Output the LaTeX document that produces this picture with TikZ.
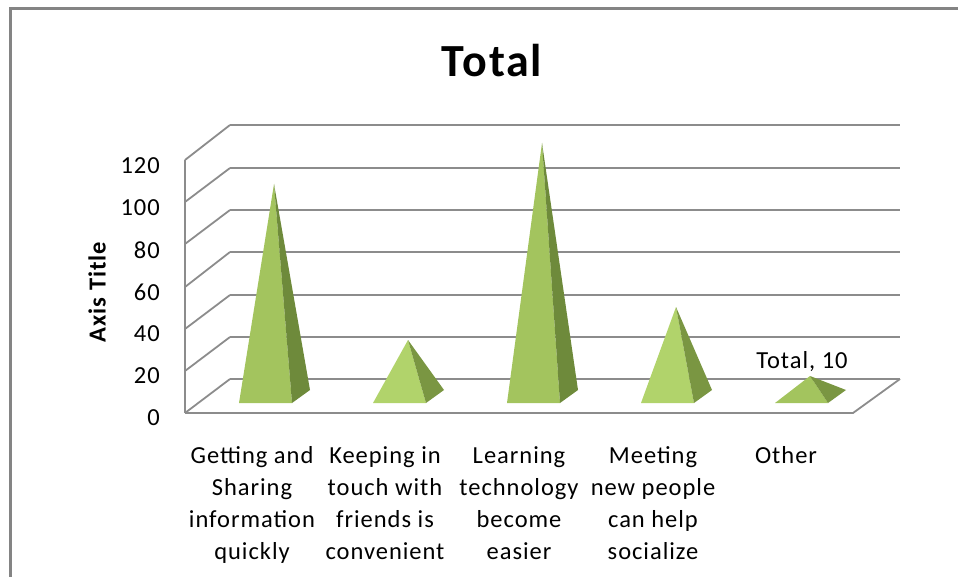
\documentclass[tikz,border=0pt]{standalone}
\usepackage{fontspec}
\setmainfont{Carlito}[LetterSpace=4]
\usepackage{xcolor}
\usepackage{tikz}
\usetikzlibrary{positioning}

\definecolor{gridgray}{HTML}{8C8C8C}
\definecolor{framegray}{HTML}{848484}
\definecolor{pyrfront}{HTML}{A3C45E}
\definecolor{pyrlight}{HTML}{B1D36B}
\definecolor{pyrside}{HTML}{6E8A3B}
\definecolor{pyrsidel}{HTML}{7A9642}

\begin{document}
\begin{tikzpicture}[x=1pt,y=-1pt,
    grid/.style={draw=gridgray,line width=1.8pt},
    ticklab/.style={anchor=east,inner sep=0pt,font=\fontsize{24.5}{28}\selectfont},
    catlab/.style={anchor=north,align=center,inner sep=0pt,font=\fontsize{24.5}{32}\selectfont}]

    \useasboundingbox (0,0) rectangle (958,577);

    % chart frame
    \draw[framegray,line width=3pt] (10,577) -- (10,9) -- (958,9);

    \node[anchor=base,font=\bfseries\fontsize{46}{50}\selectfont] (title) at (492,77) {Total};

    % back wall
    \draw[grid] (230,379) -- (900,379);
    \draw[grid] (230,337) -- (900,337);
    \draw[grid] (230,295) -- (900,295);
    \draw[grid] (230,252) -- (900,252);
    \draw[grid] (230,210) -- (900,210);
    \draw[grid] (230,168) -- (900,168);
    \draw[grid] (230,125) -- (900,125);

    % side wall
    \draw[grid] (185,160) -- (185,413);
    \draw[grid] (185,413) -- (230,379);
    \draw[grid] (185,371) -- (230,337);
    \draw[grid] (185,329) -- (230,295);
    \draw[grid] (185,287) -- (230,252);
    \draw[grid] (185,244) -- (230,210);
    \draw[grid] (185,202) -- (230,168);
    \draw[grid] (185,160) -- (230,125);

    % floor
    \draw[grid] (185,413) -- (853,413) -- (900,379);

    % pyramids
    \fill[pyrfront] (239,403) -- (292,403) -- (274,184) -- cycle;
    \fill[pyrside]  (292,403) -- (310,390) -- (274,184) -- cycle;

    \fill[pyrlight] (373,403) -- (426,403) -- (408,340) -- cycle;
    \fill[pyrsidel] (426,403) -- (444,390) -- (408,340) -- cycle;

    \fill[pyrfront] (507,403) -- (560,403) -- (542,143) -- cycle;
    \fill[pyrside]  (560,403) -- (578,390) -- (542,143) -- cycle;

    \fill[pyrlight] (641,403) -- (694,403) -- (676,307) -- cycle;
    \fill[pyrsidel] (694,403) -- (712,390) -- (676,307) -- cycle;

    \fill[pyrfront] (775,403) -- (828,403) -- (810,376) -- cycle;
    \fill[pyrsidel] (828,403) -- (846,390) -- (810,376) -- cycle;

    \node[anchor=base,font=\fontsize{24.5}{28}\selectfont] (val) at (802,368) {Total, 10};

    % value axis
    \node[ticklab] (t0)   at (160,418) {0};
    \node[ticklab] (t20)  at (160,376) {20};
    \node[ticklab] (t40)  at (160,334) {40};
    \node[ticklab] (t60)  at (160,292) {60};
    \node[ticklab] (t80)  at (160,250) {80};
    \node[ticklab] (t100) at (160,208) {100};
    \node[ticklab] (t120) at (160,166) {120};

    \node[rotate=90,font=\bfseries\fontsize{24.5}{28}\selectfont] (ytitle) at (97,292) {Axis Title};

    % categories
    \node[catlab] (c1) at (252,446) {Getting and\\Sharing\\information\\quickly};
    \node[catlab] (c2) at (385,446) {Keeping in\\touch with\\friends is\\convenient};
    \node[catlab] (c3) at (519,446) {Learning\\technology\\become\\easier};
    \node[catlab] (c4) at (653,446) {Meeting\\new people\\can help\\socialize};
    \node[catlab] (c5) at (786,446) {Other};

\end{tikzpicture}
\end{document}
